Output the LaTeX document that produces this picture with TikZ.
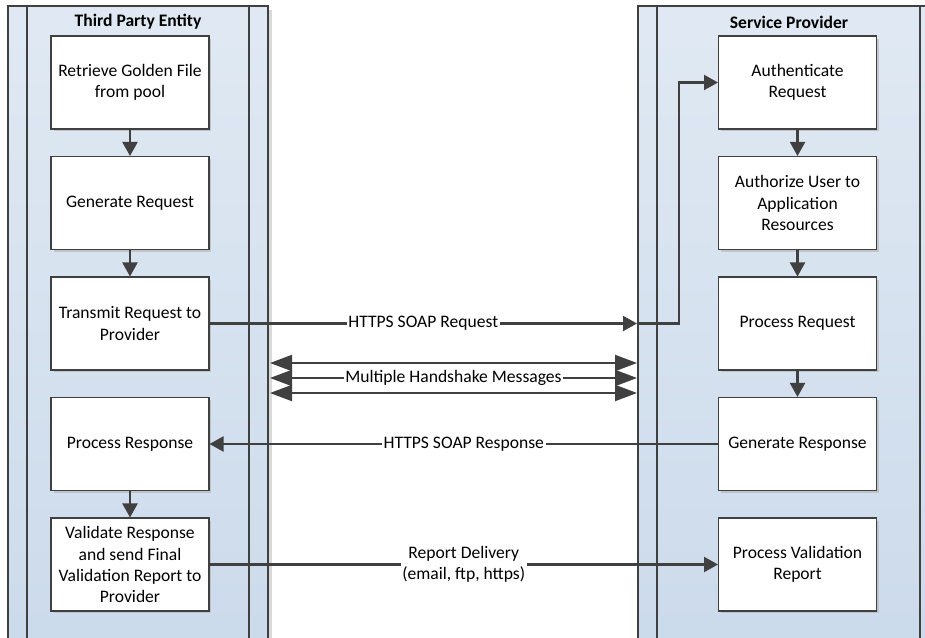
\documentclass[tikz,border=0pt]{standalone}
\usepackage{fontspec}
\setmainfont{Carlito}
\usetikzlibrary{arrows.meta, shadows}
\definecolor{lanetop}{RGB}{224,233,243}
\definecolor{lanebot}{RGB}{203,218,235}
\definecolor{linegray}{RGB}{64,64,64}

\begin{document}
\begin{tikzpicture}[x = 0.02cm, y = -0.02cm,
        every node/.style = {font = \fontsize{10}{12}\selectfont},
        header/.style = {font = \fontsize{10}{12}\selectfont\bfseries},
        lane/.style = {draw = linegray, line width = 0.6pt, top color = lanetop, bottom color = lanebot},
        laneline/.style = {draw = linegray, line width = 0.6pt},
        laneshadow/.style = {fill = black!15},
        stepbox/.style = {draw = linegray, line width = 0.6pt, fill = white, align = center, inner sep = 0pt,
            minimum width = 3.16cm, minimum height = 1.86cm,
            drop shadow = {shadow xshift = 0.05cm, shadow yshift = -0.05cm, fill = black!30, opacity = 0.6}},
        flow/.style = {draw = linegray, line width = 1.2pt, -{Triangle[length = 0.28cm, width = 0.3cm]}},
        shake/.style = {draw = linegray, line width = 1.2pt,
            {Triangle[length = 0.44cm, width = 0.32cm]}-{Triangle[length = 0.44cm, width = 0.32cm]}},
        msg/.style = {fill = white, inner xsep = 1pt, inner ysep = 0pt, align = center}]
        \useasboundingbox (0,0) rectangle (925,638);
        \clip (0,0) rectangle (925,638);
        \fill[laneshadow] (12,10) rectangle (272,660);
        \draw[lane] (8,6) rectangle (268,660);
        \draw[laneline] (27,6) -- (27,660);
        \draw[laneline] (249,6) -- (249,660);
        \draw[lane] (638,6) rectangle (939,660);
        \draw[laneline] (657,6) -- (657,660);
        \draw[laneline] (920,6) -- (920,660);
        \node[header] (thirdparty) at (138,22) {Third Party Entity};
        \node[header] (provider) at (789,22) {Service Provider};
        \node[stepbox] (golden) at (130,82.5) {Retrieve Golden File\\from pool};
        \node[stepbox] (genreq) at (130,203) {Generate Request};
        \node[stepbox] (transmit) at (130,323.5) {Transmit Request to\\Provider};
        \node[stepbox] (procresp) at (130,444) {Process Response};
        \node[stepbox] (validate) at (130,564.5) {Validate Response\\and send Final\\Validation Report to\\Provider};
        \node[stepbox] (auth) at (797.5,82.5) {Authenticate\\Request};
        \node[stepbox] (authz) at (797.5,203) {Authorize User to\\Application\\Resources};
        \node[stepbox] (procreq) at (797.5,323.5) {Process Request};
        \node[stepbox] (genresp) at (797.5,444) {Generate Response};
        \node[stepbox] (procval) at (797.5,564.5) {Process Validation\\Report};
        \coordinate (rlane) at (637,0);
        \coordinate (bend) at (679,0);
        \coordinate (hsl) at (270,378);
        \coordinate (hsr) at (637,378);
        \draw[flow] (golden) -- (genreq);
        \draw[flow] (genreq) -- (transmit);
        \draw[flow] (procresp) -- (validate);
        \draw[flow] (auth) -- (authz);
        \draw[flow] (authz) -- (procreq);
        \draw[flow] (procreq) -- (genresp);
        \draw[flow] (transmit.east) -- node[msg] {HTTPS SOAP Request} (transmit.east -| rlane);
        \draw[flow] (transmit.east -| rlane) -- (transmit.east -| bend) |- (auth.west);
        \foreach \dy in {0.3cm, -0.3cm}
            \draw[shake] ([yshift = \dy]hsl) -- ([yshift = \dy]hsr);
        \draw[shake] (hsl) -- node[msg] {Multiple Handshake Messages} (hsr);
        \draw[flow] (genresp.west) -- node[msg] {HTTPS SOAP Response} (procresp.east);
        \draw[flow] (validate.east) -- node[msg] {Report Delivery\\(email, ftp, https)} (procval.west);
\end{tikzpicture}
\end{document}
